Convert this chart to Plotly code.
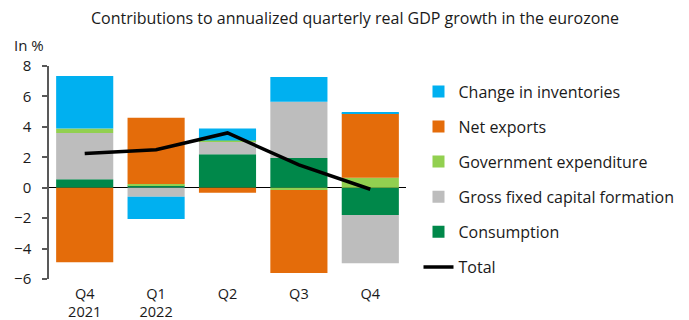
import plotly.graph_objects as go

categories = ["Q4<br>2021", "Q1<br>2022", "Q2", "Q3", "Q4"]
consumption = [0.55, 0.15, 2.2, 1.95, -1.8]
gfcf = [3.05, -0.6, 0.87, 3.7, -3.17]
government = [0.3, 0.1, 0.03, -0.15, 0.65]
net_exports = [-4.9, 4.35, -0.33, -5.45, 4.25]
inventories = [3.45, -1.45, 0.79, 1.62, 0.08]
total = [2.25, 2.5, 3.6, 1.5, -0.1]

names = ["Consumption", "Gross fixed capital formation", "Government expenditure",
         "Net exports", "Change in inventories"]
colors = ["#00884A", "#BDBDBD", "#92D050", "#E46C0A", "#00B0F0"]
series = [consumption, gfcf, government, net_exports, inventories]
ranks = [5, 4, 3, 2, 1]

FONT = "Open Sans"
TXT = "#1a1a1a"

fig = go.Figure()
for n, c, s, r in zip(names, colors, series, ranks):
    fig.add_trace(go.Bar(x=categories, y=s, name=n, marker=dict(color=c, line=dict(width=0)),
                         legendrank=r, legendgroup=n))
fig.add_trace(go.Scatter(x=categories, y=total, mode="lines", name="Total",
                         line=dict(color="black", width=3.5), legendrank=6, legendgroup="Total"))

fig.update_layout(
    width=689, height=320,
    margin=dict(l=49, r=282.5, t=66, b=40.7, autoexpand=False),
    barmode="relative", bargap=0.2,
    plot_bgcolor="white", paper_bgcolor="white",
    font=dict(family=FONT, size=15, color=TXT),
    title=dict(text="Contributions to annualized quarterly real GDP growth in the eurozone",
               x=355 / 689, xanchor="center", xref="container", y=1 - 18 / 320, yanchor="middle",
               yref="container", font=dict(size=16, color=TXT)),
    legend=dict(x=1.035, xanchor="left", y=0.96, yanchor="top",
                traceorder="grouped", tracegroupgap=11.3, maxheight=300,
                font=dict(size=16, color=TXT), itemwidth=30,
                bgcolor="rgba(0,0,0,0)"),
    showlegend=True,
)
fig.update_xaxes(showline=False, showgrid=False, zeroline=False, ticks="", automargin=False,
                 tickfont=dict(size=14.5), ticklabelstandoff=4, range=[-0.5, 4.5])
fig.update_yaxes(range=[-6, 8], dtick=2, showgrid=False, showline=True, linecolor="#595959",
                 linewidth=1.5, ticks="outside", ticklen=5, tickcolor="#595959", tickwidth=1.5,
                 zeroline=True, zerolinecolor="black", zerolinewidth=1, automargin=False,
                 tickfont=dict(size=15), ticklabelstandoff=8)
fig.add_annotation(text="In %", xref="paper", yref="paper", x=(12 - 49) / 357.5,
                   xanchor="left", y=1 + (66 - 45) / 213.3, yanchor="middle",
                   showarrow=False, font=dict(size=15, color=TXT))
fig.write_html("out.html")
